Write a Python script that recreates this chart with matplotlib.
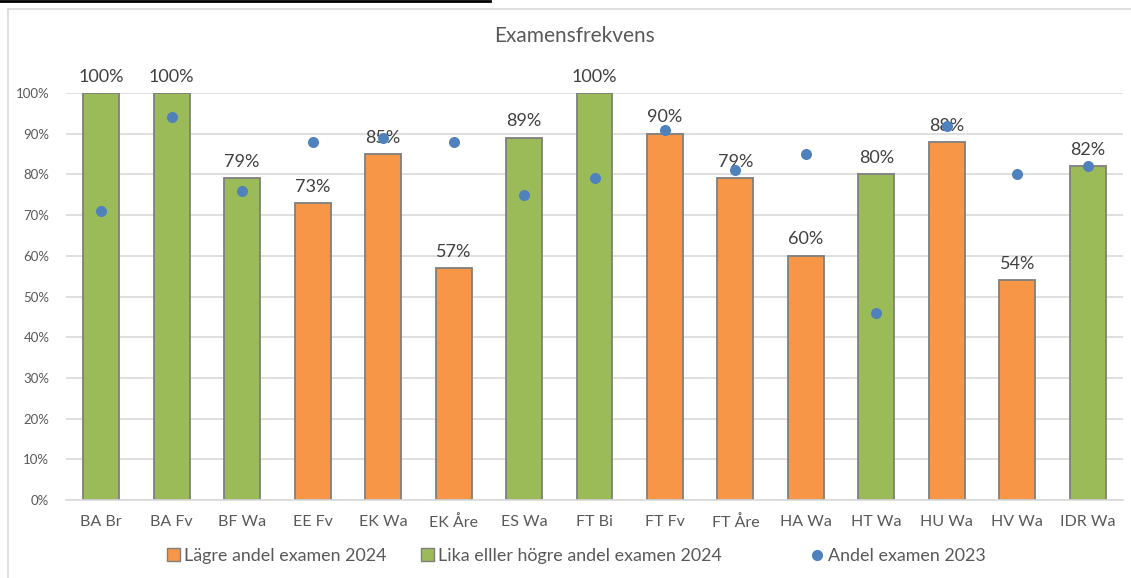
import numpy as np
import matplotlib.pyplot as plt
from matplotlib.patches import Patch
from matplotlib.lines import Line2D

plt.rcParams['font.family'] = ['Lato', 'DejaVu Sans']

# data
program = ["BA Br", "BA Fv", "BF Wa", "EE Fv", "EK Wa", "EK Åre", "ES Wa", "FT Bi",
           "FT Fv", "FT Åre", "HA Wa", "HT Wa", "HU Wa", "HV Wa", "IDR Wa"]
andel_2024 = [100, 100, 79, 73, 85, 57, 89, 100, 90, 79, 60, 80, 88, 54, 82]
andel_2023 = [71, 94, 76, 88, 89, 88, 75, 79, 91, 81, 85, 46, 92, 80, 82]
# True = lika eller högre, False = lägre
hogre = [True, True, True, False, False, False, True, True,
         False, False, False, True, False, False, True]

orange = "#F79646"
green = "#9BBB59"
blue = "#4F81BD"
kant = "#7F7F7F"

W, H = 1131, 578
fig = plt.figure(figsize=(W / 100, H / 100), dpi=100)
ax = fig.add_axes([66 / W, 1 - 500 / H, (1123 - 66) / W, (500 - 93) / H])

x = np.arange(len(program))
farger = [green if h else orange for h in hogre]
ax.bar(x, andel_2024, width=0.51, color=farger, edgecolor=kant, linewidth=1.3, zorder=2)

for xi, v in zip(x, andel_2024):
    ax.annotate(f"{v}%", (xi, v), xytext=(0, 6), textcoords="offset points",
                ha="center", va="bottom", fontsize=13, color="#404040", zorder=3)

ax.scatter(x, andel_2023, s=48, color=blue, zorder=4)

ax.set_xlim(-0.5, len(program) - 0.5)
ax.set_ylim(0, 100)
ax.set_yticks(np.arange(0, 101, 10))
ax.set_yticklabels([f"{t}%" for t in range(0, 101, 10)])
ax.set_xticks(x)
ax.set_xticklabels(program)
ax.tick_params(axis="y", length=0, labelsize=9.5, labelcolor="#595959", pad=12)
ax.tick_params(axis="x", length=0, labelsize=11.5, labelcolor="#595959", pad=11)
ax.grid(axis="y", color="#D9D9D9", linewidth=1.2, zorder=0)
ax.set_axisbelow(True)
for s in ["top", "right", "left"]:
    ax.spines[s].set_visible(False)
ax.spines["bottom"].set_color("#D9D9D9")
ax.spines["bottom"].set_linewidth(1.2)

fig.text(575 / W, 1 - 36 / H, "Examensfrekvens", ha="center", va="center",
         fontsize=15, color="#595959")

# legend, en post i taget för att få samma placering som originalet
poster = [
    (Patch(facecolor=orange, edgecolor=kant, label="Lägre andel examen 2024"), 167),
    (Patch(facecolor=green, edgecolor=kant, label="Lika elller högre andel examen 2024"), 421),
    (Line2D([], [], marker="o", linestyle="none", color=blue, markersize=7,
            label="Andel examen 2023"), 811),
]
for handle, xpos in poster:
    fig.legend(handles=[handle], loc="center left", bbox_to_anchor=(xpos / W, 1 - 556 / H),
               frameon=False, fontsize=12.9, labelcolor="#595959", handlelength=0.7,
               handleheight=0.7, handletextpad=0.25, borderpad=0, borderaxespad=0)

# ram runt diagrammet
fig.add_artist(Line2D([8 / W, 8 / W], [0, 1 - 9 / H], color="#D9D9D9", linewidth=1.2))
fig.add_artist(Line2D([8 / W, 1], [1 - 9 / H, 1 - 9 / H], color="#D9D9D9", linewidth=1.2))
# avklippt rubrik ovanför
fig.add_artist(Line2D([0, 490 / W], [1 - 1 / H, 1 - 1 / H], color="black", linewidth=2))

fig.savefig("out.png", dpi=100)
